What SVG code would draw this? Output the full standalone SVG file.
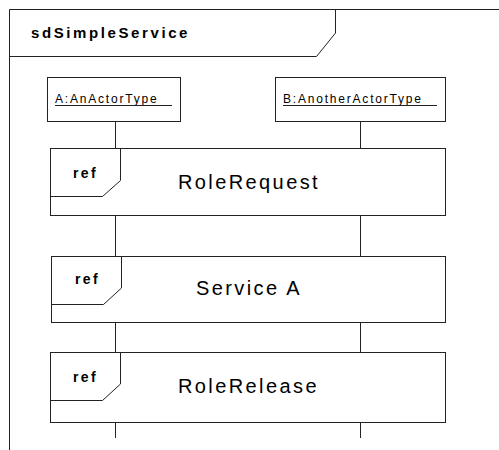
<svg xmlns="http://www.w3.org/2000/svg" width="499" height="450" viewBox="0 0 499 450">
<style>
.ln{fill:none;stroke:#222;stroke-width:1}
.box{fill:#fff;stroke:#222;stroke-width:1}
.title{font-family:"Liberation Sans",Arial,sans-serif;font-weight:bold;font-size:15px;letter-spacing:2.6px;fill:#000}
.actor{font-family:"Liberation Sans",Arial,sans-serif;font-size:12px;letter-spacing:1.8px;fill:#000}
.ref{font-family:"Liberation Sans",Arial,sans-serif;font-weight:bold;font-size:14px;letter-spacing:2.4px;fill:#000}
.lbl{font-family:"Liberation Sans",Arial,sans-serif;font-size:20px;letter-spacing:2.4px;fill:#000}
</style>
<rect width="499" height="450" fill="#fff"/>
<g id="frame">
<path class="ln" d="M9.5,450 V9.5 H499"/>
<path class="ln" d="M9.5,56.5 H316.5 L335.5,33 V9.5"/>
<text class="title" x="31" y="38">sdSimpleService</text>
</g>
<g id="connectors">
<line class="ln" x1="115.5" y1="122" x2="115.5" y2="438"/>
<line class="ln" x1="360.5" y1="122" x2="360.5" y2="438"/>
</g>
<g id="actorA">
<rect class="box" x="47.5" y="77.5" width="133" height="44"/>
<text class="actor" x="55" y="103">A:AnActorType</text>
<line class="ln" x1="55" y1="105.5" x2="172" y2="105.5"/>
</g>
<g id="actorB">
<rect class="box" x="275.5" y="77.5" width="170" height="44"/>
<text class="actor" x="283" y="103">B:AnotherActorType</text>
<line class="ln" x1="283" y1="105.5" x2="437" y2="105.5"/>
</g>
<g id="refRoleRequest">
<rect class="box" x="50.5" y="148.5" width="395" height="67"/>
<path class="ln" d="M120.5,148.5 V180.5 L102.5,196.5 H50.5"/>
<text class="ref" x="73" y="178">ref</text>
<text class="lbl" x="178" y="189">RoleRequest</text>
</g>
<g id="refServiceA">
<rect class="box" x="51.5" y="256.5" width="394" height="66"/>
<path class="ln" d="M121.5,256.5 V288 L103.5,304.5 H51.5"/>
<text class="ref" x="75" y="284">ref</text>
<text class="lbl" x="196" y="295">Service A</text>
</g>
<g id="refRoleRelease">
<rect class="box" x="50.5" y="352.5" width="395" height="70"/>
<path class="ln" d="M120.5,352.5 V384 L102.5,400.5 H50.5"/>
<text class="ref" x="73" y="382">ref</text>
<text class="lbl" x="178" y="393">RoleRelease</text>
</g>
</svg>
